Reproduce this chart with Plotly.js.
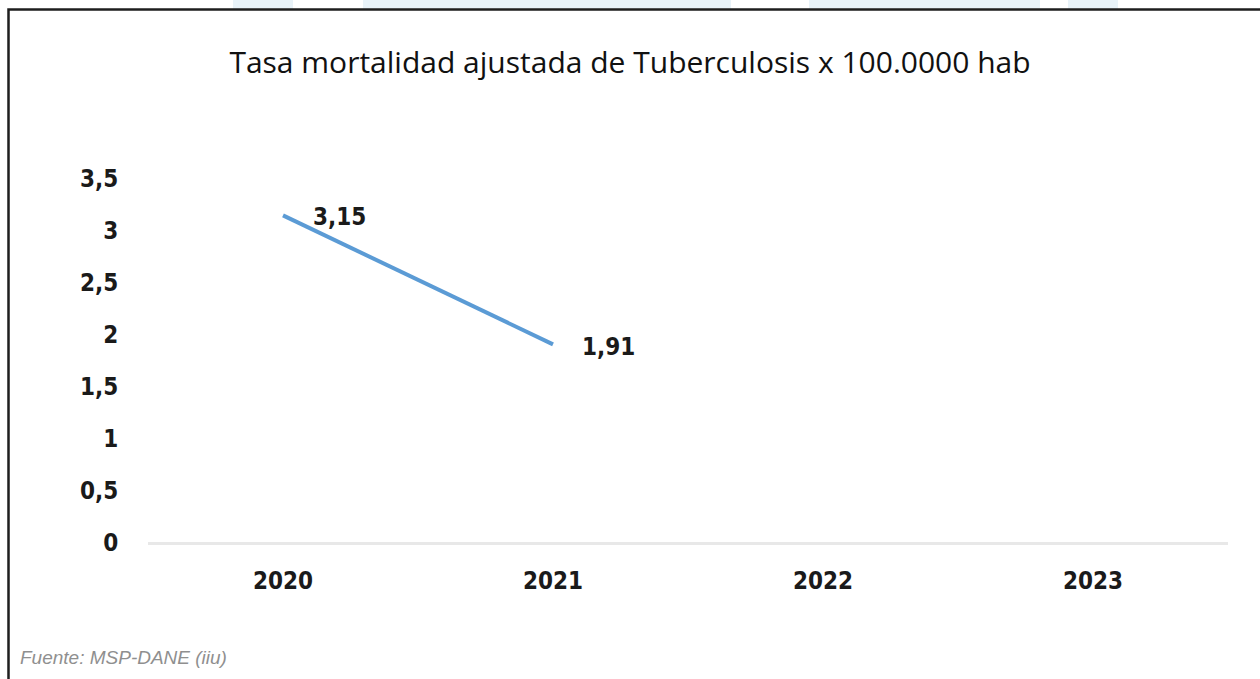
<!DOCTYPE html>
<html>
<head>
<meta charset="utf-8">
<script src="https://cdn.plot.ly/plotly-3.0.1.min.js"></script>
<style>
  html, body { margin: 0; padding: 0; background: #ffffff; }
  #chart { width: 1260px; height: 679px; }
</style>
</head>
<body>
<div id="chart"></div>
<script>
// ---- data ----
const years = ['2020', '2021', '2022', '2023'];
const tasa = [3.15, 1.91, null, null];
const tasaLabels = ['3,15', '1,91', '', ''];
const yTickVals = [0, 0.5, 1, 1.5, 2, 2.5, 3, 3.5];
const yTickText = ['0', '0,5', '1', '1,5', '2', '2,5', '3', '3,5'];
const chartTitle = 'Tasa mortalidad ajustada de Tuberculosis x 100.0000 hab';
const sourceNote = 'Fuente: MSP-DANE (iiu)';

// plot area in pixels (for converting decorative positions to paper coords)
const L = 148, R = 32, T = 179, B = 136, W = 1260, H = 679;
const PW = W - L - R, PH = H - T - B;
const px = x => (x - L) / PW;
const py = y => 1 - (y - T) / PH;

const FONT = "'DejaVu Sans Condensed', 'DejaVu Sans', sans-serif";
const labelFont = { family: FONT, size: 24, color: '#1a1a1a', weight: 'bold' };

const trace = {
  type: 'scatter',
  mode: 'lines',
  x: years,
  y: tasa,
  line: { color: '#5b9bd5', width: 4 },
  hoverinfo: 'skip',
  cliponaxis: false
};

// data labels, placed at the data points through the axes (category index)
const labelShift = [{ dx: 28, dy: -2 }, { dx: 27, dy: -3 }];
const dataLabels = [];
years.forEach((yr, i) => {
  if (tasa[i] === null) return;
  dataLabels.push({
    xref: 'x', yref: 'y', x: i, y: tasa[i],
    text: tasaLabels[i], showarrow: false,
    xanchor: 'left', yanchor: 'middle',
    xshift: labelShift[i].dx, yshift: labelShift[i].dy,
    font: { family: FONT, size: 24, color: '#1a1a1a', weight: 'bold' }
  });
});

// faint background watermark above the chart frame
const wmColor = '#e8f2f8';
const wmBlocks = [[233, 293], [363, 731], [809, 1040], [1068, 1118]];
const wmShapes = wmBlocks.map(b => ({
  type: 'rect', xref: 'paper', yref: 'paper',
  x0: px(b[0]), x1: px(b[1]), y0: py(9), y1: py(0),
  line: { width: 0 }, fillcolor: wmColor, layer: 'below'
}));

const layout = {
  width: W,
  height: H,
  margin: { l: L, r: R, t: T, b: B },
  paper_bgcolor: '#ffffff',
  plot_bgcolor: 'rgba(0,0,0,0)',
  showlegend: false,
  title: {
    text: chartTitle,
    font: { family: 'Open Sans', size: 30, color: '#111111' },
    x: 0.5, xanchor: 'center',
    y: 1 - 62 / H, yanchor: 'middle'
  },
  xaxis: {
    type: 'category',
    categoryorder: 'array',
    categoryarray: years,
    range: [-0.5, 3.5],
    showgrid: false,
    zeroline: false,
    showline: false,
    ticks: 'outside',
    ticklen: 16,
    tickcolor: 'rgba(0,0,0,0)',
    tickfont: labelFont
  },
  yaxis: {
    range: [0, 3.5],
    tickvals: yTickVals,
    ticktext: yTickText,
    showgrid: false,
    zeroline: true,
    zerolinecolor: '#e8e8e8',
    zerolinewidth: 3,
    showline: false,
    ticks: 'outside',
    ticklen: 24,
    tickcolor: 'rgba(0,0,0,0)',
    tickfont: labelFont
  },
  shapes: wmShapes.concat([
    {
      type: 'rect', xref: 'paper', yref: 'paper',
      x0: px(8.5), x1: px(W + 40),
      y0: py(H + 40), y1: py(9.5),
      line: { color: '#1e1e1e', width: 2.5 },
      fillcolor: 'rgba(0,0,0,0)',
      layer: 'below'
    }
  ]),
  annotations: dataLabels.concat([
    {
      xref: 'paper', yref: 'paper',
      x: px(18), xanchor: 'left',
      y: py(657), yanchor: 'middle',
      text: sourceNote,
      showarrow: false,
      font: { family: 'Liberation Sans', size: 19, color: '#8f8f8f', style: 'italic' }
    }
  ])
};

Plotly.newPlot('chart', [trace], layout, { displayModeBar: false, staticPlot: true });
</script>
</body>
</html>
